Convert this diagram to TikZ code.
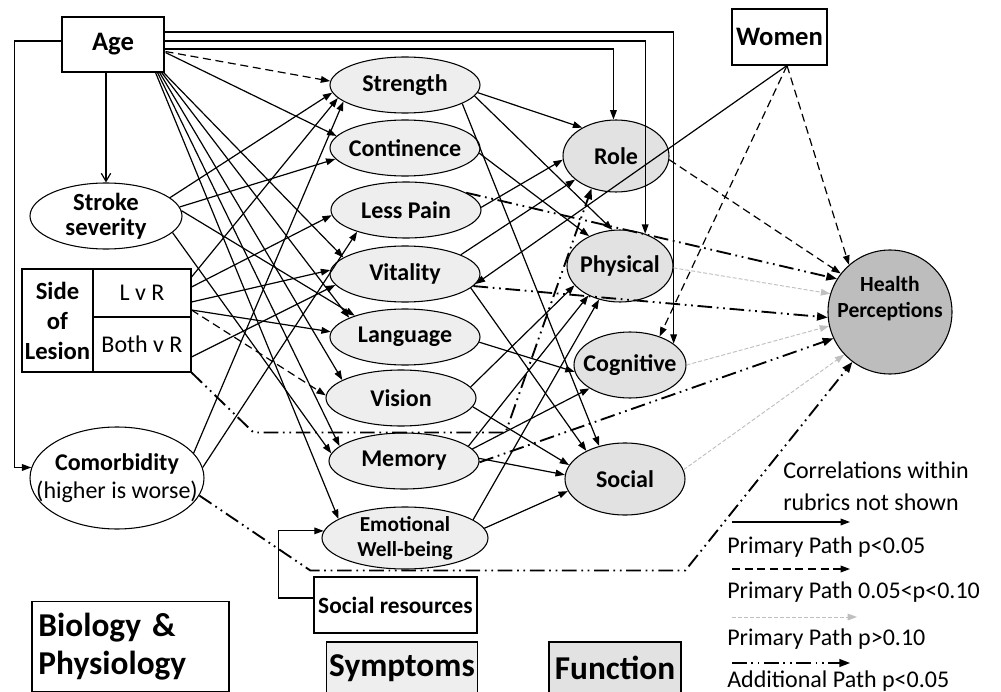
\documentclass[tikz,border=0pt]{standalone}
\usepackage{fontspec}
\setmainfont{Carlito}
\usetikzlibrary{arrows.meta,shapes.geometric,calc}
\definecolor{symfill}{gray}{0.935}
\definecolor{funfill}{gray}{0.885}
\definecolor{hpfill}{gray}{0.74}
\definecolor{lgray}{gray}{0.75}
\newcommand{\fsAge}{\fontsize{20}{22}\selectfont\bfseries}
\newcommand{\fsSym}{\fontsize{18}{19}\selectfont\bfseries}
\newcommand{\fsSmall}{\fontsize{16}{19}\selectfont\bfseries}
\newcommand{\fsBig}{\fontsize{25}{29}\selectfont\bfseries}
\newcommand{\fsReg}{\fontsize{18}{21}\selectfont}
\tikzset{
  ln/.style={line width=0.9pt,-{Triangle[length=7pt,width=5pt]}},
  dsh/.style={ln,dash pattern=on 6pt off 3.5pt},
  gry/.style={line width=0.7pt,draw=lgray,dash pattern=on 3pt off 1.5pt,-{Triangle[length=7pt,width=5pt,fill=lgray]}},
  dd/.style={line width=1.4pt,dash pattern=on 11pt off 3.5pt on 1.3pt off 3.5pt on 1.3pt off 3.5pt,-{Triangle[length=8pt,width=6pt]}},
  box/.style={draw,line width=0.8pt,rectangle,inner sep=2pt},
  wel/.style={draw,line width=0.8pt,ellipse,inner sep=0pt,fill=white},
  sym/.style={wel,fill=symfill,minimum width=112.5pt,minimum height=42pt},
  fun/.style={wel,fill=funfill},
  lab/.style={font=\fsSym,align=center},
  leg/.style={font=\fsReg,anchor=base west,inner sep=0pt}
}
\begin{document}
\begin{tikzpicture}[x=0.75pt,y=-0.75pt]
\useasboundingbox (0,0) rectangle (1001,692);
% ---------- nodes
\node[box,minimum width=76.5pt,minimum height=41.25pt,font=\fsAge] (age) at (113,44.5) {Age};
\node[box,minimum width=71.25pt,minimum height=42pt,font=\fsAge] (women) at (779.5,37) {Women};
\node[wel,minimum width=114pt,minimum height=49.5pt,label={[font=\fontsize{18.5}{18.75}\selectfont\bfseries,align=center]center:Stroke\\severity}] (stroke) at (106,216) {};
\node[box,inner sep=0pt,minimum width=53.25pt,minimum height=77.25pt,font=\fontsize{18.5}{22.5}\selectfont\bfseries,align=center] (side) at (57.5,320.5) {Side\\of\\Lesion};
\node[box,minimum width=73.5pt,minimum height=36pt,font=\fsReg] (lvr) at (142,293) {L v R};
\node[box,minimum width=73.5pt,minimum height=41.25pt,font=\fsReg] (bvr) at (142,344.5) {Both v R};
\node[wel,minimum width=130.5pt,minimum height=76.5pt,label={[font=\fsReg,align=center]center:{\bfseries Comorbidity}\\(higher is worse)}] (como) at (117,478) {};
\node[box,minimum width=122.25pt,minimum height=42pt,font=\fontsize{17.5}{19}\selectfont\bfseries] (sr) at (395.5,605) {Social resources};
\node[box,minimum width=147.75pt,minimum height=67.5pt,font=\fsBig,align=left,text width=138pt] (bio) at (130.5,646.5) {Biology \&\\Physiology};
\node[box,fill=symfill,minimum width=106.5pt,minimum height=39pt,font=\fsBig] (symb) at (402,668) {Symptoms};
\node[box,fill=funfill,minimum width=99pt,minimum height=39pt,font=\fsBig] (funb) at (615,668) {Function};
% symptoms
\node[sym,label={[lab]center:Strength}] (str) at (405,85) {};
\node[sym,label={[lab]center:Continence}] (con) at (405,148) {};
\node[sym,label={[lab]center:Less Pain}] (pain) at (406,210) {};
\node[sym,label={[lab]center:Vitality}] (vit) at (405,274) {};
\node[sym,label={[lab]center:Language}] (lang) at (405,337) {};
\node[sym,label={[lab]center:Vision}] (vis) at (401,398) {};
\node[sym,label={[lab]center:Memory}] (mem) at (404,461) {};
\node[sym,minimum width=124.5pt,minimum height=46.5pt,label={[font=\fsSmall,align=center]center:Emotional\\Well-being}] (emo) at (405,538) {};
% function
\node[fun,minimum width=79.5pt,minimum height=54pt,label={[lab]center:Role}] (role) at (616,156) {};
\node[fun,minimum width=79.5pt,minimum height=54pt,label={[lab]center:Physical}] (phys) at (620,266) {};
\node[fun,minimum width=84pt,minimum height=49.5pt,label={[lab]center:Cognitive}] (cog) at (630,365) {};
\node[fun,minimum width=90pt,minimum height=54pt,label={[lab]center:Social}] (soc) at (625,479) {};
\node[draw,line width=0.8pt,circle,fill=hpfill,minimum size=93pt,inner sep=0pt,
  label={[font=\fontsize{16.2}{19}\selectfont\bfseries,align=center,yshift=10pt]center:Health\\Perceptions}] (hp) at (890,312) {};
% ---------- Age paths
\draw[line width=0.9pt,-{Straight Barb[length=6pt,width=7pt]}] (stroke.north |- age.south) -- (stroke.north);
\draw[ln] ([shift={(0,-3.5)}]age.west) -- ++(-47,0) |- (como.173);
\draw[ln] ([shift={(0,4.5)}]age.east) -| (role.94);
\draw[ln] ([shift={(0,-3.5)}]age.east) -| (phys.52);
\draw[ln] ([shift={(0,-12.5)}]age.east) -| (cog.26);
\draw[dsh] ([shift={(1,-21)}]age.south east) -- (str.177);
\draw[ln] ([shift={(1,-20)}]age.south east) -- (con.170);
\draw[ln] ([shift={(-1,0)}]age.south east) -- (vit.165);
\draw[ln] ([shift={(-3,0)}]age.south east) -- (lang.161);
\draw[ln] ([shift={(-5,0)}]age.south east) -- (vis.163);
\draw[ln] ([shift={(-7,0)}]age.south east) -- (mem.167);
\draw[ln] ([shift={(-9,0)}]age.south east) -- (emo.164);
% stroke
\draw[ln] (stroke.16) -- (str.186);
\draw[ln] (stroke.7) -- (con.189);
\draw[ln] (stroke.4) -- (lang.157);
\draw[ln] (stroke.-14) -- (mem.174);
% side of lesion
\draw[ln] ([shift={(0,-16)}]lvr.east) -- (str.191);
\draw[ln] ([shift={(0,-6)}]lvr.east) -- (pain.184);
\draw[ln] ([shift={(0,9)}]lvr.east) -- (vit.177);
\draw[ln] ([shift={(0,17)}]lvr.east) -- (lang.176);
\draw[dsh] ([shift={(0,17)}]lvr.east) -- (vis.178);
\draw[ln] ([shift={(0,12.5)}]bvr.east) -- (vit.189);
\draw[dd] (bvr.south east) -- ++(62,60) -- ++(252,0) -- (role.233);
% comorbidity
\draw[ln] (como.18) -- (str.195);
\draw[ln] (como.7) -- (pain.204);
\draw[dd] (como.-12) -- ++(111,75) -- ++(375,0) -- (hp.233);
% social resources
\draw[ln] ([shift={(0,-7)}]sr.west) -- ++(-35,0) |- (emo.175);
% symptoms -> function
\draw[ln] (str.-6) -- (role.140);
\draw[ln] (str.-9) -- (phys.102);
\draw[ln] (str.-18) -- (soc.128);
\draw[ln] (con.-4) -- (phys.136);
\draw[ln] (pain.2) -- (role.184);
\draw[dd] (pain.16) -- (hp.148);
\draw[ln] (vit.19) -- (role.210);
\draw[ln] (vit.-12) -- (soc.144);
\draw[dd] (vit.-10) -- (hp.185);
\draw[ln] (lang.-4) -- (cog.187);
\draw[ln] (vis.9) -- (phys.203);
\draw[ln] (vis.-7) -- (soc.166);
\draw[ln] (mem.13) -- (phys.223);
\draw[ln] (mem.10) -- (cog.210);
\draw[ln] (mem.2) -- (soc.176);
\draw[dd] (mem.-1) -- (hp.205);
\draw[ln] (emo.15) -- (phys.238);
\draw[ln] (emo.7) -- (soc.192);
% women
\draw[ln] ([shift={(7.5,0)}]women.south) -- (vit.-8);
\draw[dsh] ([shift={(7.5,0)}]women.south) -- (cog.44);
\draw[dsh] ([shift={(7.5,0)}]women.south) -- (hp.131);
% function -> health
\draw[dsh] (role.-4) -- (hp.142);
\draw[gry] (phys.-2) -- (hp.163);
\draw[gry] (cog.0) -- (hp.193);
\draw[gry] (soc.9) -- (hp.223);
% ---------- legend
\node[leg] (t0) at (783,478) {Correlations within};
\node[leg] (t0b) at (783,510) {rubrics not shown};
\coordinate (l1a) at (732,522); \coordinate (l1b) at (850,522);
\draw[ln] (l1a) -- (l1b);
\node[leg] (t1) at (727,553) {Primary Path p<0.05};
\coordinate (l2a) at (732,569); \coordinate (l2b) at (850,569);
\draw[dsh] (l2a) -- (l2b);
\node[leg] (t2) at (727,598) {Primary Path 0.05<p<0.10};
\coordinate (l3a) at (732,617); \coordinate (l3b) at (857,617);
\draw[gry] (l3a) -- (l3b);
\node[leg] (t3) at (727,645) {Primary Path p>0.10};
\coordinate (l4a) at (732,663); \coordinate (l4b) at (850,663);
\draw[dd,line width=1pt] (l4a) -- (l4b);
\node[leg] (t4) at (727,687) {Additional Path p<0.05};
\end{tikzpicture}
\end{document}
